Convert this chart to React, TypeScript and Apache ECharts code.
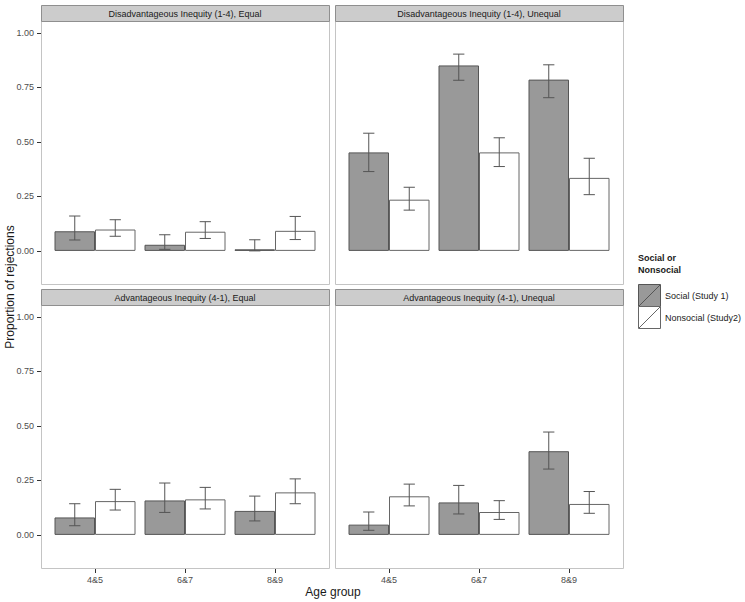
import React, { useEffect, useRef } from "react";
import * as echarts from "echarts";

const categories = ["4&5", "6&7", "8&9"];
const panelTitles = [
  "Disadvantageous Inequity (1-4), Equal",
  "Disadvantageous Inequity (1-4), Unequal",
  "Advantageous Inequity (4-1), Equal",
  "Advantageous Inequity (4-1), Unequal",
];
const seriesNames = ["Social (Study 1)", "Nonsocial (Study2)"];
const yTicks = [0, 0.25, 0.5, 0.75, 1];
const yTickLabels = ["0.00", "0.25", "0.50", "0.75", "1.00"];

// Disadvantageous, Equal
const disEqualSocial = [0.09, 0.028, 0.007];
const disEqualSocialLo = [0.05, 0.007, 0.0];
const disEqualSocialHi = [0.16, 0.074, 0.051];
const disEqualNonsocial = [0.098, 0.088, 0.092];
const disEqualNonsocialLo = [0.067, 0.057, 0.052];
const disEqualNonsocialHi = [0.143, 0.134, 0.158];

// Disadvantageous, Unequal
const disUnequalSocial = [0.452, 0.851, 0.786];
const disUnequalSocialLo = [0.364, 0.783, 0.703];
const disUnequalSocialHi = [0.54, 0.903, 0.854];
const disUnequalNonsocial = [0.235, 0.452, 0.335];
const disUnequalNonsocialLo = [0.187, 0.387, 0.258];
const disUnequalNonsocialHi = [0.292, 0.519, 0.425];

// Advantageous, Equal
const advEqualSocial = [0.08, 0.158, 0.11];
const advEqualSocialLo = [0.042, 0.103, 0.064];
const advEqualSocialHi = [0.143, 0.238, 0.178];
const advEqualNonsocial = [0.155, 0.163, 0.195];
const advEqualNonsocialLo = [0.114, 0.119, 0.143];
const advEqualNonsocialHi = [0.209, 0.218, 0.257];

// Advantageous, Unequal
const advUnequalSocial = [0.047, 0.149, 0.384];
const advUnequalSocialLo = [0.021, 0.096, 0.302];
const advUnequalSocialHi = [0.105, 0.227, 0.472];
const advUnequalNonsocial = [0.177, 0.105, 0.142];
const advUnequalNonsocialLo = [0.133, 0.071, 0.099];
const advUnequalNonsocialHi = [0.233, 0.157, 0.199];

const panels = [
  { social: [disEqualSocial, disEqualSocialLo, disEqualSocialHi], nonsocial: [disEqualNonsocial, disEqualNonsocialLo, disEqualNonsocialHi] },
  { social: [disUnequalSocial, disUnequalSocialLo, disUnequalSocialHi], nonsocial: [disUnequalNonsocial, disUnequalNonsocialLo, disUnequalNonsocialHi] },
  { social: [advEqualSocial, advEqualSocialLo, advEqualSocialHi], nonsocial: [advEqualNonsocial, advEqualNonsocialLo, advEqualNonsocialHi] },
  { social: [advUnequalSocial, advUnequalSocialLo, advUnequalSocialHi], nonsocial: [advUnequalNonsocial, advUnequalNonsocialLo, advUnequalNonsocialHi] },
];

const FONT = "Liberation Sans, Arial, sans-serif";
const SOCIAL_FILL = "#999999";
const SOCIAL_STROKE = "#555555";
const NON_FILL = "#ffffff";
const NON_STROKE = "#666666";
const ERR_COLOR = "#555555";
const BORDER = "#c4c4c4";
const TICK = "#333333";
const Y_MIN = -0.152;
const Y_MAX = 1.055;

export default function App() {
  const ref = useRef<HTMLDivElement>(null);

  useEffect(() => {
    if (!ref.current) return;
    const chart = echarts.init(ref.current, undefined, { renderer: "svg" });

    const panelX = [41, 335];
    const panelW = 288;
    const stripTop = [5, 289];
    const stripH = 16;
    const bodyH = 263;
    const pad = 9; // ggplot discrete expansion (0.1 band each side)

    const grids: any[] = [];
    const xAxes: any[] = [];
    const yAxes: any[] = [];
    const series: any[] = [];
    const graphics: any[] = [];

    panels.forEach((p, i) => {
      const col = i % 2;
      const row = Math.floor(i / 2);
      const x0 = panelX[col];
      const sTop = stripTop[row];
      const bTop = sTop + stripH;

      grids.push({ left: x0 + pad, top: bTop, width: panelW - 2 * pad, height: bodyH, containLabel: false });

      graphics.push({
        type: "rect",
        shape: { x: x0 + 0.5, y: bTop + 0.5, width: panelW, height: bodyH },
        style: { fill: "none", stroke: BORDER, lineWidth: 1 },
        z: 1,
      });
      graphics.push({
        type: "rect",
        shape: { x: x0 + 0.5, y: sTop + 0.5, width: panelW, height: stripH },
        style: { fill: "#cccccc", stroke: "#8f8f8f", lineWidth: 1 },
        z: 1,
      });
      graphics.push({
        type: "text",
        x: x0 + panelW / 2,
        y: sTop + stripH / 2 + 1,
        style: { text: panelTitles[i], font: `9px ${FONT}`, fill: "#1a1a1a", align: "center", verticalAlign: "middle" },
        z: 2,
      });

      xAxes.push({
        type: "category",
        gridIndex: i,
        data: categories,
        boundaryGap: true,
        axisLine: { show: false },
        axisTick: { show: false },
        axisLabel: { show: row === 1, fontSize: 9, color: "#4d4d4d", fontFamily: FONT, margin: 7 },
        splitLine: { show: false },
      });

      yAxes.push({
        type: "value",
        gridIndex: i,
        min: Y_MIN,
        max: Y_MAX,
        offset: pad,
        axisLine: { show: false },
        axisTick: { show: false },
        axisLabel: {
          show: col === 0,
          customValues: yTicks,
          fontSize: 9,
          color: "#4d4d4d",
          fontFamily: FONT,
          margin: 7,
          formatter: (v: number) => {
            const k = yTicks.indexOf(v);
            return k >= 0 ? yTickLabels[k] : "";
          },
        },
        splitLine: { show: false },
      });

      const groups = [
        { d: p.social, fill: SOCIAL_FILL, stroke: SOCIAL_STROKE, name: seriesNames[0], side: -1 },
        { d: p.nonsocial, fill: NON_FILL, stroke: NON_STROKE, name: seriesNames[1], side: 1 },
      ];
      groups.forEach((g) => {
        series.push({
          type: "bar",
          name: g.name,
          xAxisIndex: i,
          yAxisIndex: i,
          data: g.d[0],
          barGap: "0%",
          barCategoryGap: "10%",
          itemStyle: { color: g.fill, borderColor: g.stroke, borderWidth: 1 },
          z: 2,
        });
      });
      groups.forEach((g) => {
        series.push({
          type: "custom",
          xAxisIndex: i,
          yAxisIndex: i,
          z: 3,
          data: categories.map((_, k) => [k, g.d[1][k], g.d[2][k]]),
          renderItem: (params: any, api: any) => {
            const idx = api.value(0);
            const lo = api.coord([idx, api.value(1)]);
            const hi = api.coord([idx, api.value(2)]);
            const band = api.size([1, 0])[0];
            const x = lo[0] + g.side * band * 0.225;
            const hw = band * 0.0625;
            const st = { stroke: ERR_COLOR, lineWidth: 1 };
            return {
              type: "group",
              children: [
                { type: "line", shape: { x1: x, y1: lo[1], x2: x, y2: hi[1] }, style: st },
                { type: "line", shape: { x1: x - hw, y1: lo[1], x2: x + hw, y2: lo[1] }, style: st },
                { type: "line", shape: { x1: x - hw, y1: hi[1], x2: x + hw, y2: hi[1] }, style: st },
              ],
            };
          },
        });
      });

      // y ticks (left panels)
      if (col === 0) {
        series.push({
          type: "custom",
          xAxisIndex: i,
          yAxisIndex: i,
          silent: true,
          clip: false,
          z: 5,
          data: yTicks.map((v) => [0, v]),
          renderItem: (params: any, api: any) => {
            const c = api.coord([0, api.value(1)]);
            const left = params.coordSys.x - pad;
            const yy = Math.round(c[1]) + 0.5;
            return { type: "line", shape: { x1: left - 4, y1: yy, x2: left, y2: yy }, style: { stroke: TICK, lineWidth: 1 } };
          },
        });
      }
      // x ticks (bottom panels)
      if (row === 1) {
        series.push({
          type: "custom",
          xAxisIndex: i,
          yAxisIndex: i,
          silent: true,
          clip: false,
          z: 5,
          data: categories.map((_, k) => [k, Y_MIN]),
          renderItem: (params: any, api: any) => {
            const c = api.coord([api.value(0), api.value(1)]);
            const xx = Math.round(c[0]) + 0.5;
            return { type: "line", shape: { x1: xx, y1: c[1] + 1, x2: xx, y2: c[1] + 5 }, style: { stroke: TICK, lineWidth: 1 } };
          },
        });
      }
    });

    graphics.push({
      type: "text",
      x: 333,
      y: 592,
      style: { text: "Age group", font: `12px ${FONT}`, fill: "#1a1a1a", align: "center", verticalAlign: "middle" },
    });
    graphics.push({
      type: "text",
      x: 10,
      y: 287,
      rotation: Math.PI / 2,
      style: { text: "Proportion of rejections", font: `12px ${FONT}`, fill: "#1a1a1a", align: "center", verticalAlign: "middle" },
    });

    const lx = 638;
    graphics.push({
      type: "text",
      x: lx,
      y: 264,
      style: { text: "Social or\nNonsocial", font: `bold 9px ${FONT}`, fill: "#1a1a1a", align: "left", verticalAlign: "middle", lineHeight: 12 },
    });
    const keys = [
      { y: 284, fill: SOCIAL_FILL, stroke: SOCIAL_STROKE, label: seriesNames[0] },
      { y: 306, fill: NON_FILL, stroke: NON_STROKE, label: seriesNames[1] },
    ];
    keys.forEach((k) => {
      graphics.push({
        type: "rect",
        shape: { x: lx + 0.5, y: k.y + 0.5, width: 22, height: 22 },
        style: { fill: k.fill, stroke: k.stroke, lineWidth: 1 },
      });
      graphics.push({
        type: "line",
        shape: { x1: lx + 1, y1: k.y + 22, x2: lx + 22, y2: k.y + 1 },
        style: { stroke: k.stroke, lineWidth: 1 },
      });
      graphics.push({
        type: "text",
        x: lx + 27,
        y: k.y + 12,
        style: { text: k.label, font: `9px ${FONT}`, fill: "#1a1a1a", align: "left", verticalAlign: "middle" },
      });
    });

    chart.setOption({
      animation: false,
      backgroundColor: "#ffffff",
      grid: grids,
      xAxis: xAxes,
      yAxis: yAxes,
      series,
      graphic: graphics,
    });

    return () => chart.dispose();
  }, []);

  return <div ref={ref} style={{ width: 745, height: 602, position: "absolute", left: 0, top: 0 }} />;
}
